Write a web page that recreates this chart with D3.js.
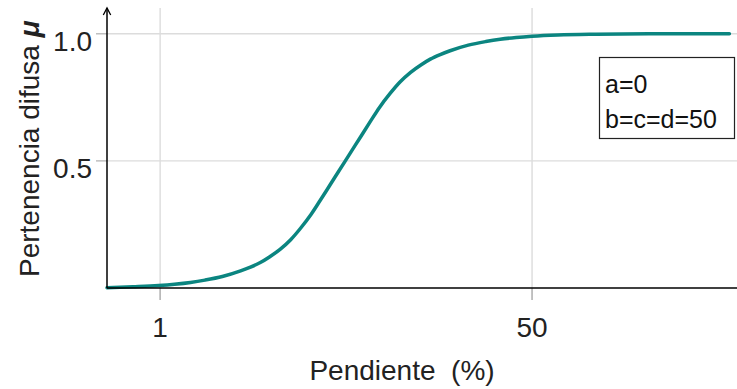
<!DOCTYPE html>
<html>
<head>
<meta charset="utf-8">
<script src="https://cdn.jsdelivr.net/npm/d3@7"></script>
<style>
  html, body { margin: 0; padding: 0; background: #fff; }
  svg { display: block; font-family: "Liberation Sans", Arial, sans-serif; }
</style>
</head>
<body>
<svg id="chart" width="737" height="389"></svg>
<script>
// ---- data ----
const slopeX = [-6, -2.6, 0.8, 2.9, 5.0, 6.9, 9.2, 11.6, 12.9, 14.2, 15.4, 16.8, 18.2, 19.5, 20.9, 22.1, 23.4, 24.4, 25.4,
                26.4, 27.4, 28.7, 29.9, 31.3, 32.6, 34.0, 35.4, 36.6, 37.9, 39.2, 41.6, 43.9, 45.8, 47.9, 50.0, 53.4, 58.4, 65.4, 76];
const membership = [0.001, 0.005, 0.010, 0.015, 0.022, 0.031, 0.045, 0.067, 0.082, 0.100, 0.122, 0.152, 0.190, 0.235, 0.290, 0.345, 0.406, 0.453, 0.500,
                    0.547, 0.594, 0.655, 0.710, 0.765, 0.810, 0.848, 0.878, 0.900, 0.918, 0.933, 0.955, 0.969, 0.978, 0.985, 0.990, 0.995, 0.998, 0.9995, 1.0];
const xTicks = [1, 50];
const xTickLabels = ["1", "50"];
const yTicks = [0.5, 1.0];
const yTickLabels = ["0.5", "1.0"];
const legendLines = ["a=0", "b=c=d=50"];
const xTitle = "Pendiente\u00A0 (%)";
const yTitle = "Pertenencia difusa ";
const yTitleSymbol = "\u03BC";

// ---- layout ----
const svg = d3.select("#chart");
const W = 737, H = 389;
const x = d3.scaleLinear().domain([-6, 77]).range([107, 737]);
const y = d3.scaleLinear().domain([0, 1]).range([288, 33.7]);
const yTop = y(1.101);
const gridColor = "#dcdcdc";

// horizontal gridlines
svg.append("g").selectAll("line").data(yTicks).join("line")
  .attr("x1", 96).attr("x2", W)
  .attr("y1", d => y(d)).attr("y2", d => y(d))
  .attr("stroke", gridColor).attr("stroke-width", 1.4);

// vertical gridlines
svg.append("g").selectAll("line").data(xTicks).join("line")
  .attr("x1", d => x(d)).attr("x2", d => x(d))
  .attr("y1", yTop).attr("y2", 300)
  .attr("stroke", gridColor).attr("stroke-width", 1.4);

// tick marks
svg.append("g").selectAll("line").data(xTicks).join("line")
  .attr("x1", d => x(d)).attr("x2", d => x(d))
  .attr("y1", y(0)).attr("y2", 300)
  .attr("stroke", "#aaa").attr("stroke-width", 1.2);
svg.append("g").selectAll("line").data(yTicks).join("line")
  .attr("x1", 96).attr("x2", x(-6))
  .attr("y1", d => y(d)).attr("y2", d => y(d))
  .attr("stroke", "#bbb").attr("stroke-width", 1.2);

// curve
const line = d3.line()
  .x((d, i) => x(slopeX[i]))
  .y(d => y(d))
  .curve(d3.curveMonotoneX);
svg.append("path")
  .datum(membership)
  .attr("d", line)
  .attr("fill", "none")
  .attr("stroke", "#0b8580")
  .attr("stroke-width", 3.5)
  .attr("stroke-linecap", "round");

// axes
svg.append("line")
  .attr("x1", x(-6)).attr("x2", W)
  .attr("y1", y(0)).attr("y2", y(0))
  .attr("stroke", "#000").attr("stroke-width", 1.5);
svg.append("line")
  .attr("x1", x(-6)).attr("x2", x(-6))
  .attr("y1", y(0)).attr("y2", yTop)
  .attr("stroke", "#000").attr("stroke-width", 1.5);
svg.append("path")
  .attr("d", `M${x(-6) - 3.7},${yTop + 7} L${x(-6)},${yTop} L${x(-6) + 3.7},${yTop + 7}`)
  .attr("fill", "none").attr("stroke", "#000").attr("stroke-width", 1.3);

// tick labels
svg.append("g").selectAll("text").data(xTicks).join("text")
  .attr("x", d => x(d)).attr("y", 337)
  .attr("text-anchor", "middle")
  .attr("font-size", 28).attr("fill", "#222")
  .text((d, i) => xTickLabels[i]);
svg.append("g").selectAll("text").data(yTicks).join("text")
  .attr("x", 92).attr("y", d => y(d) + 17)
  .attr("text-anchor", "end")
  .attr("font-size", 28).attr("fill", "#222")
  .text((d, i) => yTickLabels[i]);

// axis titles
svg.append("text")
  .attr("x", 402).attr("y", 380)
  .attr("text-anchor", "middle")
  .attr("font-size", 28).attr("fill", "#222")
  .text(xTitle);
const yt = svg.append("text")
  .attr("transform", "translate(39,277) rotate(-90)")
  .attr("text-anchor", "start")
  .attr("font-size", 28).attr("fill", "#222");
yt.append("tspan").text(yTitle);
yt.append("tspan").attr("font-weight", "bold").attr("font-style", "italic").text(yTitleSymbol);

// legend box
svg.append("rect")
  .attr("x", 599.5).attr("y", 57.5).attr("width", 135).attr("height", 81)
  .attr("fill", "#fff").attr("stroke", "#222").attr("stroke-width", 1.2);
svg.append("g").selectAll("text").data(legendLines).join("text")
  .attr("x", 605).attr("y", (d, i) => 93 + i * 34.5)
  .attr("font-size", 25).attr("fill", "#111")
  .text(d => d);
</script>
</body>
</html>
